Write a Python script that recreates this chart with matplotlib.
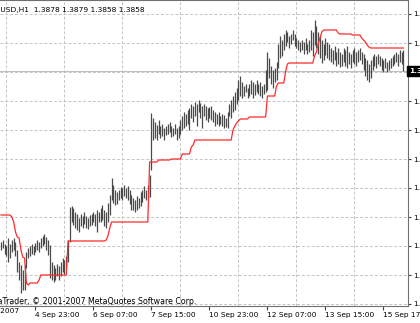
import numpy as np
import matplotlib
matplotlib.use("Agg")
import matplotlib.pyplot as plt
import matplotlib.transforms as mtransforms

# EURUSD H1 bars (high / low), one value per hourly bar
highs = [
    1.3687, 1.3689, 1.3685, 1.3683, 1.3691, 1.3685, 1.3689, 1.3691, 1.3687, 1.3679,
    1.3667, 1.3664, 1.3659, 1.3664, 1.3677, 1.3681, 1.3683, 1.3685, 1.3683, 1.3686,
    1.3689, 1.3687, 1.3691, 1.3693, 1.3695, 1.3692, 1.3689, 1.3684, 1.3667, 1.3664,
    1.3661, 1.3665, 1.3663, 1.3667, 1.3671, 1.3669, 1.3673, 1.3689, 1.3722, 1.3723,
    1.3721, 1.3717, 1.3715, 1.3711, 1.3715, 1.3713, 1.3717, 1.3713, 1.3711, 1.3714,
    1.3715, 1.3717, 1.3715, 1.3719, 1.3717, 1.3721, 1.3724, 1.3719, 1.3717, 1.3726,
    1.3734, 1.3751, 1.3744, 1.3739, 1.3737, 1.3739, 1.3742, 1.3741, 1.3744, 1.3741,
    1.3743, 1.3739, 1.3734, 1.3731, 1.3729, 1.3733, 1.3731, 1.3737, 1.3739, 1.3743,
    1.3739, 1.3744, 1.3754, 1.3816, 1.3811, 1.3807, 1.3804, 1.3809, 1.3803, 1.3805,
    1.3801, 1.3803, 1.3805, 1.3807, 1.3803, 1.3801, 1.3805, 1.3801, 1.3803, 1.3809,
    1.3813, 1.3817, 1.3815, 1.3819, 1.3821, 1.3825, 1.3823, 1.3827, 1.3825, 1.3829,
    1.3826, 1.3823, 1.3825, 1.3823, 1.3821, 1.3822, 1.3823, 1.3819, 1.3817, 1.3815,
    1.3817, 1.3813, 1.3815, 1.3814, 1.3811, 1.3817, 1.3825, 1.3829, 1.3833, 1.3837,
    1.3841, 1.3849, 1.3853, 1.3847, 1.3843, 1.3845, 1.3841, 1.3845, 1.3849, 1.3847,
    1.3845, 1.3849, 1.3845, 1.3847, 1.3843, 1.3845, 1.3859, 1.3877, 1.3871, 1.3863,
    1.3859, 1.3861, 1.3867, 1.3885, 1.3893, 1.3889, 1.3895, 1.3899, 1.3897, 1.3893,
    1.3895, 1.3899, 1.3895, 1.3891, 1.3889, 1.3887, 1.3889, 1.3887, 1.3891, 1.3885,
    1.3889, 1.3899, 1.3897, 1.3909, 1.3903, 1.3897, 1.3893, 1.3889, 1.3885, 1.3891,
    1.3887, 1.3885, 1.3881, 1.3879, 1.3883, 1.3877, 1.3881, 1.3877, 1.3875, 1.3881,
    1.3879, 1.3883, 1.3877, 1.3875, 1.3879, 1.3881, 1.3877, 1.3879, 1.3881, 1.3877,
    1.3875, 1.3871, 1.3869, 1.3865, 1.3869, 1.3873, 1.3875, 1.3873, 1.3875, 1.3873,
    1.3871, 1.3869, 1.3871, 1.3867, 1.3869, 1.3871, 1.3873, 1.3875, 1.3877, 1.3875,
    1.3879, 1.3877, 1.3879,
]
lows = [
    1.3679, 1.3681, 1.3675, 1.3673, 1.3667, 1.3671, 1.3677, 1.3679, 1.3673, 1.3657,
    1.3649, 1.3636, 1.3639, 1.3639, 1.3661, 1.3671, 1.3673, 1.3675, 1.3674, 1.3677,
    1.3679, 1.3677, 1.3681, 1.3683, 1.3685, 1.3679, 1.3674, 1.3651, 1.3649, 1.3647,
    1.3649, 1.3653, 1.3649, 1.3653, 1.3657, 1.3655, 1.3661, 1.3667, 1.3687, 1.3707,
    1.3704, 1.3701, 1.3699, 1.3697, 1.3703, 1.3701, 1.3705, 1.3701, 1.3700, 1.3703,
    1.3704, 1.3707, 1.3703, 1.3697, 1.3707, 1.3707, 1.3709, 1.3703, 1.3701, 1.3707,
    1.3714, 1.3729, 1.3726, 1.3724, 1.3725, 1.3729, 1.3731, 1.3729, 1.3733, 1.3731,
    1.3729, 1.3725, 1.3719, 1.3719, 1.3717, 1.3719, 1.3721, 1.3723, 1.3727, 1.3731,
    1.3729, 1.3731, 1.3732, 1.3759, 1.3789, 1.3791, 1.3789, 1.3795, 1.3791, 1.3793,
    1.3789, 1.3794, 1.3795, 1.3797, 1.3792, 1.3793, 1.3795, 1.3789, 1.3791, 1.3795,
    1.3799, 1.3801, 1.3803, 1.3805, 1.3799, 1.3811, 1.3807, 1.3813, 1.3803, 1.3817,
    1.3811, 1.3801, 1.3813, 1.3809, 1.3807, 1.3811, 1.3809, 1.3807, 1.3803, 1.3805,
    1.3803, 1.3805, 1.3803, 1.3801, 1.3802, 1.3801, 1.3813, 1.3811, 1.3817, 1.3819,
    1.3825, 1.3829, 1.3833, 1.3831, 1.3833, 1.3837, 1.3831, 1.3833, 1.3835, 1.3831,
    1.3834, 1.3837, 1.3835, 1.3833, 1.3831, 1.3835, 1.3837, 1.3839, 1.3851, 1.3845,
    1.3841, 1.3847, 1.3849, 1.3861, 1.3871, 1.3873, 1.3879, 1.3883, 1.3887, 1.3881,
    1.3885, 1.3889, 1.3883, 1.3881, 1.3879, 1.3877, 1.3879, 1.3875, 1.3879, 1.3875,
    1.3877, 1.3879, 1.3873, 1.3884, 1.3881, 1.3875, 1.3871, 1.3866, 1.3869, 1.3874,
    1.3871, 1.3869, 1.3867, 1.3865, 1.3869, 1.3863, 1.3865, 1.3862, 1.3863, 1.3867,
    1.3863, 1.3861, 1.3865, 1.3861, 1.3867, 1.3865, 1.3863, 1.3867, 1.3869, 1.3865,
    1.3859, 1.3853, 1.3849, 1.3847, 1.3851, 1.3859, 1.3863, 1.3861, 1.3865, 1.3863,
    1.3859, 1.3857, 1.3861, 1.3857, 1.3859, 1.3861, 1.3863, 1.3865, 1.3867, 1.3863,
    1.3867, 1.3865, 1.3858,
]

# red trailing stop line, one value per bar
stop = (
    [1.3714] * 6 + [1.3712, 1.3707, 1.3697, 1.3692, 1.3691, 1.3679, 1.3672, 1.3671,
                    1.3646, 1.3644] + [1.3646] * 5 + [1.3649] + [1.3654] * 15
    + [1.3688] * 21 + [1.3689, 1.3693, 1.3701] + [1.3707] * 21
    + [1.3767] * 5 + [1.3769] * 7 + [1.3770] * 6 + [1.3775] * 5 + [1.3782, 1.3784]
    + [1.3789] * 21 + [1.3799, 1.3803, 1.3806, 1.3808] + [1.3810] * 5 + [1.3812] * 10
    + [1.3833] * 5 + [1.3843] + [1.3846] * 4 + [1.3857, 1.3865] + [1.3866] * 14
    + [1.3873, 1.3877, 1.3885, 1.3891, 1.3897] + [1.3899] * 8 + [1.3896] + [1.3895] * 7
    + [1.3894] * 5 + [1.3891, 1.3889, 1.3887, 1.3884, 1.3882] + [1.3881] * 19
)

last_price = 1.3858
header = "EURUSD,H1  1.3878 1.3879 1.3858 1.3858"
copyright_text = "MetaTrader, \u00a9 2001-2007 MetaQuotes Software Corp."

date_ticks = [-13, 19, 51, 83, 115, 147, 179, 211]
date_labels = ["3 Sep 2007", "4 Sep 23:00", "6 Sep 07:00", "7 Sep 15:00",
               "10 Sep 23:00", "12 Sep 07:00", "13 Sep 15:00", "15 Sep 17:00"]
price_ticks = [1.3625, 1.3654, 1.3683, 1.3712, 1.3741, 1.3770, 1.3799,
               1.3828, 1.3857, 1.3886, 1.3915]

W, H = 420, 323
fig = plt.figure(figsize=(W / 100, H / 100), dpi=100)
fig.patch.set_facecolor("white")
ax = fig.add_axes([0, 17 / H, 408 / W, 306 / H])

x = np.arange(len(highs))
ax.vlines(x, lows, highs, color="#4a4a4a", lw=0.9, zorder=3)
ax.plot(x, stop, color="#ff2a2a", lw=0.9, zorder=4)
ax.axhline(last_price, color="#c0c0c0", lw=0.8, zorder=2)

ax.set_xlim(-0.55, 224.55)
ax.set_ylim(1.3623, 1.3929)

# grid
ax.set_xticks(np.arange(3, 225, 16), minor=True)
ax.set_xticks(date_ticks[1:])
ax.set_xticklabels(date_labels[1:], ha="left", fontsize=5.3)
ax.set_yticks(price_ticks)
ax.set_yticklabels(["" if abs(v - 1.3857) < 1e-6 else f"{v:.4f}" for v in price_ticks],
                   fontsize=5.3)
ax.yaxis.tick_right()
ax.grid(True, which="minor", axis="x", color="#c4c4c4", ls=(0, (3, 2)), lw=0.7)
ax.grid(True, which="major", axis="y", color="#c4c4c4", ls=(0, (3, 2)), lw=0.7)
ax.tick_params(axis="x", which="major", length=3, pad=1.5, color="#404040")
ax.tick_params(axis="x", which="minor", length=0)
ax.tick_params(axis="y", length=2, pad=2, color="#404040")
for s in ["left"]:
    ax.spines[s].set_visible(False)
for s in ["right", "bottom", "top"]:
    ax.spines[s].set_color("#707070")
    ax.spines[s].set_linewidth(0.8)

# first date label lies left of the visible area
trans = mtransforms.blended_transform_factory(ax.transData, ax.transAxes)
ax.text(date_ticks[0], -0.008, date_labels[0], transform=trans, ha="left", va="top",
        fontsize=5.3, clip_on=False)

# current price box
ax.text(1.003, last_price, f"{last_price:.4f}", transform=ax.get_yaxis_transform(),
        ha="left", va="center", fontsize=5.3, color="white", fontweight="bold",
        bbox=dict(boxstyle="square,pad=0.25", facecolor="black", edgecolor="black"))

fig.text(-15 / W, 1 - 10 / H, header, ha="left", va="center", fontsize=5.4)
fig.text(-17 / W, 1 - 301 / H, copyright_text, ha="left", va="center", fontsize=5.7)

fig.savefig("out.png", dpi=100)
